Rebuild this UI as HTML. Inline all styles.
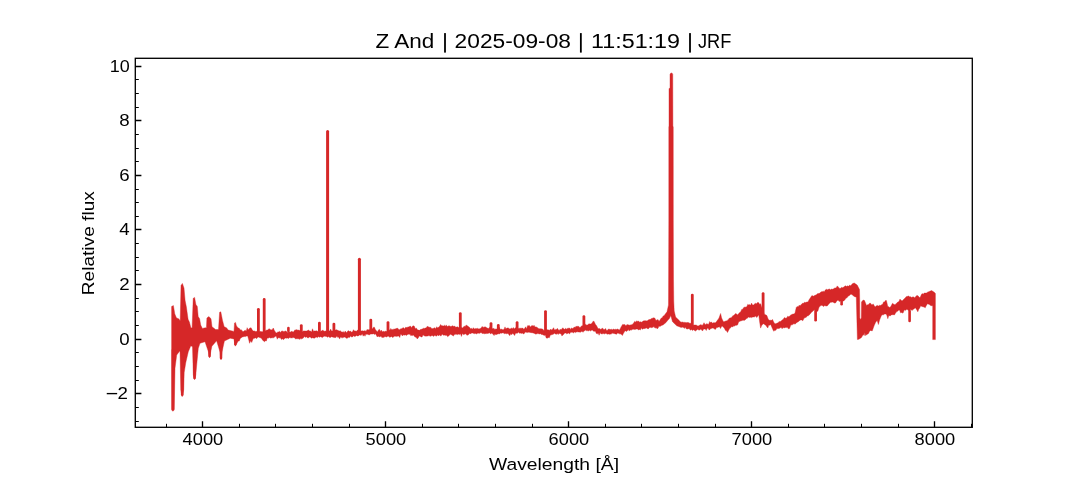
<!DOCTYPE html>
<html><head><meta charset="utf-8"><title>Z And spectrum</title>
<style>html,body{margin:0;padding:0;background:#fff;}body{width:1080px;height:480px;overflow:hidden;}svg{display:block;will-change:transform;}text{font-family:"Liberation Sans",sans-serif;fill:#000;}</style>
</head><body>
<svg width="1080" height="480" viewBox="0 0 1080 480">
<rect x="0" y="0" width="1080" height="480" fill="#fff"/>
<g clip-path="url(#axclip)">
<path d="M171.6 306.5 L173.4 305.6 L174.8 313.9 L176.5 318 L178.6 318.7 L180.2 320.7 L181 285.4 L182.4 283.4 L184 288.1 L185.1 300.4 L186.4 307.1 L188.1 319.3 L189.4 322.1 L190.8 327.5 L192.1 328.2 L193.2 298.3 L194.6 297.4 L195.9 304.4 L197.3 306.5 L198.2 316.6 L199.6 318.7 L200.7 325 L202.4 328.4 L205.3 327.8 L206.4 328 L206.9 318 L208.8 316.6 L211 318.7 L212 326.7 L215.6 329.5 L218.5 329.5 L219.6 312.3 L220.8 311.8 L222.5 320.4 L224.2 326.7 L226.5 327.8 L228.2 330.1 L234 331.4 L234.5 323 L235.5 322.4 L236.5 326 L238.2 328 L239.24 328.35 L240.28 329.95 L241.32 329.73 L242.36 331.14 L243.4 331.6 L244.34 330.72 L245.29 330.16 L246.23 331.2 L247.17 327.66 L248.11 330.11 L249.06 328.64 L250 328 L251.07 327.8 L252.15 329.81 L253.23 331.08 L254.3 330.9 L255.65 331.52 L257 331.3 L258 330.89 L259 331.66 L260 331.4 L261 331.6 L261.95 331.77 L262.9 331.86 L263.85 330.42 L264.8 330.85 L265.75 330.85 L266.7 330.1 L267.8 330.01 L268.9 328.7 L269.95 329.2 L271 330 L272.15 329.68 L273.3 328 L274.4 330.45 L275.5 332.3 L276.47 332.95 L277.44 332.13 L278.41 332.08 L279.39 331.37 L280.36 332.5 L281.33 331.19 L282.3 330.9 L283.28 331.43 L284.26 331.47 L285.23 330.88 L286.21 331.29 L287.19 332.13 L288.17 332.25 L289.14 331.85 L290.12 332.25 L291.1 331.6 L292.07 331.15 L293.03 332.24 L294 331.28 L294.97 329.81 L295.93 330.16 L296.9 329.4 L297.84 330.33 L298.79 330.07 L299.73 330.55 L300.67 330.59 L301.61 331.52 L302.56 331.6 L303.5 330.9 L304.52 330.88 L305.54 331.01 L306.56 331.01 L307.58 330.56 L308.6 330.1 L309.57 330.89 L310.53 331.11 L311.5 332.07 L312.47 328.78 L313.43 331.19 L314.4 330.9 L315.31 331.08 L316.22 330.79 L317.14 331.11 L318.05 331.53 L318.96 331.3 L319.88 331.9 L320.79 330.97 L321.7 330.9 L322.7 329.88 L323.7 331.02 L324.7 331.26 L325.7 330.94 L326.7 331.07 L327.7 332 L328.7 331.1 L329.7 330.9 L330.64 329.01 L331.57 331.11 L332.51 331.01 L333.45 330.77 L334.39 330.64 L335.32 330.12 L336.26 329.64 L337.2 330.1 L338.22 330.58 L339.24 331 L340.26 330.78 L341.28 331.69 L342.3 332.3 L343.21 331.43 L344.12 332.7 L345.04 331.28 L345.95 331.71 L346.86 332.65 L347.78 330.96 L348.69 330.69 L349.6 331.6 L350.57 331.1 L351.53 332.24 L352.5 331.67 L353.47 329.71 L354.43 330.92 L355.4 330.9 L356.38 331.25 L357.36 330.27 L358.33 329.84 L359.31 331.04 L360.29 330.87 L361.27 330.88 L362.24 330.7 L363.22 331.02 L364.2 330.9 L365.13 330.55 L366.05 331.5 L366.98 329.61 L367.91 329.73 L368.84 329.79 L369.76 329.69 L370.69 328.14 L371.62 328.8 L372.55 328.7 L373.47 327.18 L374.4 327.2 L375.5 329.75 L376.6 330.9 L377.54 332.03 L378.49 329.9 L379.43 329.35 L380.37 331.42 L381.31 330.04 L382.26 332.11 L383.2 330.9 L384.15 332.07 L385.1 331.06 L386.05 331.49 L387 330.83 L387.95 329.89 L388.9 329.47 L389.85 330.35 L390.8 328.43 L391.75 329.77 L392.7 329.4 L393.73 329.13 L394.77 329.02 L395.8 328.7 L396.78 328.37 L397.77 328.24 L398.75 329.6 L399.73 329.8 L400.72 328.64 L401.7 328.7 L402.67 327.9 L403.63 327.64 L404.6 328.96 L405.57 327.32 L406.53 327.53 L407.5 327.2 L408.48 326.96 L409.47 326.48 L410.45 326.12 L411.43 327.87 L412.42 326.15 L413.4 325.8 L414.37 326.32 L415.33 328.66 L416.3 328 L417.4 329.86 L418.5 330.1 L419.45 330.33 L420.4 329.55 L421.35 329.33 L422.3 329.06 L423.25 328.28 L424.2 328.44 L425.15 328.12 L426.1 327.97 L427.05 326.45 L428 326.5 L428.97 327.3 L429.93 327.29 L430.9 327.43 L431.87 328.79 L432.83 328.61 L433.8 328.2 L434.78 327.65 L435.76 328.63 L436.73 326.72 L437.71 328.09 L438.69 327.03 L439.67 326.27 L440.64 324.47 L441.62 325.81 L442.6 325.8 L443.51 326.04 L444.43 325.26 L445.34 326.15 L446.25 324.92 L447.16 326.81 L448.07 325.82 L448.99 326.15 L449.9 325.8 L450.88 326.78 L451.85 326.08 L452.82 325.7 L453.8 326.5 L454.74 326.02 L455.68 327.3 L456.62 327.06 L457.56 326.85 L458.5 327.61 L459.44 327.19 L460.38 327.01 L461.32 327.58 L462.26 328.07 L463.2 327.2 L464.2 326.19 L465.2 326.38 L466.2 325 L467.27 325.69 L468.35 326.57 L469.43 327.25 L470.5 328.7 L471.44 328.23 L472.39 329.3 L473.33 327.68 L474.27 329.06 L475.21 328.46 L476.16 328.84 L477.1 328.2 L478.08 328.64 L479.07 329.02 L480.05 328.59 L481.03 328.23 L482.02 326.43 L483 327.2 L484 327.2 L485 326.8 L486 327.17 L487 328 L487.99 328.3 L488.97 328.44 L489.96 326.72 L490.94 327.7 L491.93 328.38 L492.91 328.77 L493.9 328.2 L494.81 329.62 L495.72 328.89 L496.64 328.95 L497.55 329 L498.46 328.58 L499.38 327.33 L500.29 329.6 L501.2 329.1 L502.15 329.54 L503.1 329.72 L504.05 329.17 L505 326.88 L505.95 329.11 L506.9 327.91 L507.85 328 L508.8 328.2 L509.71 328.92 L510.62 328.64 L511.53 328.1 L512.43 328.68 L513.34 327.51 L514.25 329.12 L515.16 327.92 L516.07 327.77 L516.98 328.99 L517.88 328.42 L518.79 328.52 L519.7 328.2 L520.72 328.22 L521.74 328.22 L522.76 328.08 L523.78 329.19 L524.8 328.2 L525.71 326.84 L526.62 329.08 L527.54 325.67 L528.45 325.75 L529.36 325.45 L530.27 326.88 L531.19 326.3 L532.1 325.3 L533.08 326.33 L534.07 325.27 L535.05 326.98 L536.03 326.89 L537.02 327.25 L538 328.2 L539.08 328.73 L540.15 328.78 L541.22 328.85 L542.3 329.1 L543.24 329.6 L544.19 330.92 L545.13 330.31 L546.07 329.54 L547.01 329.81 L547.96 329.84 L548.9 330.1 L549.84 330.13 L550.79 329.01 L551.73 330.14 L552.67 329.1 L553.61 327.71 L554.56 330 L555.5 329.4 L556.42 329.59 L557.34 328.33 L558.27 329.81 L559.19 330.38 L560.11 329.2 L561.03 329.8 L561.96 328.78 L562.88 327.8 L563.8 329.1 L564.77 329.32 L565.73 328.27 L566.7 329.14 L567.67 328.17 L568.63 328.2 L569.6 328 L570.51 329.41 L571.42 327.9 L572.34 328.61 L573.25 328.31 L574.16 327.09 L575.08 327.51 L575.99 326.33 L576.9 326.5 L577.92 326.24 L578.94 326.53 L579.96 327.68 L580.98 326.43 L582 325.8 L582.92 325.77 L583.85 325.17 L584.78 324.8 L585.7 324.3 L586.78 325.21 L587.85 324.83 L588.92 323.86 L590 323.9 L591.02 324.02 L592.05 322.92 L593.08 321.28 L594.1 321.4 L595.35 324.18 L596.6 325.8 L598.1 328.7 L599.03 328.38 L599.96 328.82 L600.89 329.49 L601.81 328.46 L602.74 328.2 L603.67 329.57 L604.6 329.4 L605.58 328.43 L606.56 330.55 L607.53 330.24 L608.51 328.98 L609.49 329.28 L610.47 329.53 L611.44 329.25 L612.42 329.84 L613.4 329.1 L614.37 329.57 L615.34 329.22 L616.31 329.53 L617.29 328.99 L618.26 329.32 L619.23 330.19 L620.2 328.7 L621.5 326.16 L622.8 324.3 L623.83 324.87 L624.87 324.39 L625.9 326.02 L626.93 324.6 L627.97 324.84 L629 325 L629.97 325.29 L630.93 324.74 L631.9 324.77 L632.87 324.07 L633.83 322.69 L634.8 321.28 L635.77 322.2 L636.73 320.8 L637.7 321.4 L638.61 321.02 L639.53 322.16 L640.44 321.71 L641.35 322.13 L642.26 321.7 L643.17 320.97 L644.09 320.86 L645 320.7 L646 320.77 L647 320.91 L648 320.33 L649 319.49 L650 319.5 L650.95 319.05 L651.9 318.33 L652.85 318.13 L653.8 317.7 L654.9 318.17 L656 320.4 L657 320.06 L658 319.57 L659 321.46 L660 320 L661 318.36 L662 317.95 L663 316.19 L664 315.8 L667 311.7 L668.5 305 L668.6 280 L668.8 220 L668.8 127 L669 126 L669 88.5 L670 88.3 L670 74.5 L670.6 73.3 L671.4 72.9 L672.2 73.3 L672.75 74.5 L672.9 126 L673.25 127 L673.3 220 L673.5 280 L673.75 301 L674.2 311 L675.6 317 L679.3 320.6 L680.25 321.72 L681.2 322.15 L682.15 321.88 L683.1 322.29 L684.05 322.42 L685 322.2 L686 322.72 L687 322.45 L688 322.52 L689 322.84 L690 323.5 L691.1 323.04 L692.2 324.7 L693.3 325.28 L694.4 325 L695.33 324.98 L696.27 325.08 L697.2 325.73 L698.13 326.12 L699.07 325.56 L700 325 L701 324.61 L702 325.49 L703 324.68 L704 322.68 L705 324.4 L705.93 324.43 L706.87 323.56 L707.8 324.2 L708.73 324.24 L709.67 321.55 L710.6 322.5 L711.54 322.02 L712.48 323.31 L713.42 322.68 L714.37 322.67 L715.31 322.75 L716.25 321.9 L717.17 320.41 L718.08 319.53 L719 318 L720.6 313.5 L721.55 317.73 L722.5 320 L723.75 321.95 L725 321.25 L726 320.93 L727 320.67 L728 319.88 L729 318.42 L730 318.1 L730.93 317.71 L731.87 317.16 L732.8 315.73 L733.73 315.54 L734.67 314.45 L735.6 313.5 L736.55 313.9 L737.5 315 L738.54 313.87 L739.58 312.62 L740.62 311.99 L741.67 309.45 L742.71 309.23 L743.75 307.5 L745 306.9 L745.94 307.16 L746.88 306.59 L747.81 304.32 L748.75 305 L749.69 304.6 L750.62 305.36 L751.56 303.11 L752.5 305 L753.5 304.91 L754.5 303.94 L755.5 303.31 L756.5 303.78 L757.5 302.5 L758.53 302.58 L759.57 304.14 L760.6 303.75 L761.55 306.66 L762.5 308.89 L763.45 311.96 L764.4 314.4 L765.65 314.81 L766.9 315.6 L767.83 318.26 L768.75 320 L769.69 320.34 L770.62 320.24 L771.56 320.35 L772.5 319.4 L773.75 322.21 L775 323.75 L776 323.85 L777 323.05 L778 322.94 L779 321.62 L780 321.7 L781.1 321.11 L782.2 319.96 L783.3 319.2 L784.43 317.59 L785.57 318.15 L786.7 317.9 L787.73 316.17 L788.75 316.67 L789.77 315.96 L790.8 315 L791.85 314.62 L792.9 314.04 L793.95 313.97 L795 312.9 L796.25 307.5 L797.19 306.38 L798.12 307.07 L799.06 305.34 L800 305.8 L801.25 304.55 L802.5 303.3 L803.55 303.3 L804.6 302.13 L805.65 302.61 L806.7 302.1 L807.95 301.88 L809.2 299.6 L810.45 297.74 L811.7 295.8 L812.8 295.86 L813.9 296.29 L815 295 L816 295.24 L817 294.01 L818 293.4 L819.05 293.58 L820.1 292.83 L821.15 291.81 L822.2 291.75 L823.23 291.16 L824.25 291.81 L825.27 290.12 L826.3 289.25 L827.35 289.87 L828.4 289.37 L829.45 288.96 L830.5 289.7 L831.55 289.11 L832.6 289.27 L833.65 288.79 L834.7 288 L836 288 L837.3 285.9 L838.5 287.15 L839.7 288.4 L840.7 288.24 L841.7 287.32 L842.7 287.81 L843.7 287.06 L844.7 286.3 L845.7 285.82 L846.7 286.59 L847.7 285.82 L848.7 286.35 L849.7 285.1 L850.61 285.78 L851.52 284.75 L852.43 283.64 L853.34 283.36 L854.25 283 L857.2 285.1 L859.5 289.5 L859.7 300 L859.8 318 L860.5 319.5 L861.3 318 L861.5 302 L863.2 300 L864.5 300.5 L866.5 305.4 L867.5 304.86 L868.5 304.4 L869.55 303.29 L870.6 303.3 L871.9 304.95 L873.2 303.9 L874.25 305.71 L875.3 307 L876.35 305.85 L877.4 305.4 L878.53 306.05 L879.67 305.26 L880.8 305.6 L881.73 304.58 L882.67 304.27 L883.6 301.9 L884.53 302.03 L885.47 300.52 L886.4 300.5 L887.8 306.6 L888.75 306.82 L889.7 307.5 L890.63 306.66 L891.57 305.12 L892.5 303.3 L893.7 304.16 L894.9 304.7 L895.92 303.99 L896.94 302.79 L897.96 302.11 L898.98 301.62 L900 299.1 L900.93 300.37 L901.87 300.72 L902.8 300.5 L903.9 299.11 L905 298.25 L906.1 296.7 L907.9 296.3 L908.84 296.01 L909.78 296.91 L910.72 296.69 L911.66 297.49 L912.6 296.9 L913.62 296.88 L914.65 297.63 L915.68 296.67 L916.7 295.6 L918.05 295.86 L919.4 297.6 L920.3 297.14 L921.2 295 L922.1 293.6 L923.18 294.22 L924.26 292.97 L925.34 293.12 L926.42 293.07 L927.5 292.2 L931.6 290.6 L934.3 292.3 L935.4 293.5 L935.4 339.6 L932.7 339.6 L932.7 305.7 L930.9 305.7 L929.77 304.87 L928.63 304.17 L927.5 303.7 L926.37 305.43 L925.23 307.81 L924.1 307.1 L922.97 306.69 L921.83 306.44 L920.7 305.7 L919.73 308.07 L918.77 309.16 L917.8 311.8 L916.55 309.53 L915.3 307.8 L914.17 308.73 L913.03 309.62 L911.9 310.5 L910.92 309.47 L909.95 309.89 L908.98 310.66 L908 310.2 L907.05 309.28 L906.1 309.8 L905.17 310.56 L904.25 309.85 L903.33 312.62 L902.4 313.1 L901.45 312.48 L900.5 312.87 L899.55 310.06 L898.6 310.3 L897.55 311.19 L896.5 311.8 L895.45 313.19 L894.4 315 L893.35 314.65 L892.3 314.71 L891.25 314.93 L890.2 315.9 L888.8 315.5 L887.8 318.7 L886.8 315 L885.7 314.04 L884.6 314 L883.65 314.73 L882.7 314.86 L881.75 314.9 L880.8 316.9 L879.6 320 L878.4 324.5 L877.2 320.5 L875.8 322 L874.3 325.2 L873.2 328.3 L872.2 330.9 L870.6 330.4 L869.55 331.33 L868.5 333.5 L865.4 335.5 L864.9 332.5 L864.2 335.5 L863.3 334.6 L861.25 337.7 L858.8 339.3 L857.4 339.5 L856.3 297.2 L853.8 296.3 L852.55 294.88 L851.3 294.25 L850.27 294.48 L849.25 295.66 L848.23 296.01 L847.2 297.6 L845.95 298.19 L844.7 300.1 L843.75 300.89 L842.8 301 L841.55 301.13 L840.3 301 L839.15 301.51 L838 300.1 L836.75 300.9 L835.5 303 L834.53 303.07 L833.57 302.49 L832.6 302.08 L831.63 302.25 L830.67 302.3 L829.7 303 L828.45 304.5 L827.2 306 L825.95 306.03 L824.7 305.5 L823.78 306.59 L822.86 305.9 L821.94 305.36 L821.02 305.56 L820.1 306 L818.95 307.61 L817.8 311.2 L816.74 311.54 L815.68 311.57 L814.62 309.79 L813.56 310.48 L812.5 311.5 L811.25 312.47 L810 314.2 L808.3 315.8 L807.2 315.9 L806.1 317.38 L805 317.5 L803.9 318.54 L802.8 320.84 L801.7 320 L800.57 319.96 L799.43 320.67 L798.3 321.7 L797.2 322.16 L796.1 323.25 L795 324.2 L793.95 323.54 L792.9 324.55 L791.85 324.87 L790.8 325 L789.55 328.55 L788.3 328.75 L787.27 327.29 L786.25 327.61 L785.23 327.45 L784.2 327.9 L783.15 327.59 L782.1 328.76 L781.05 327.13 L780 328.1 L778.96 328.45 L777.92 328.59 L776.88 328.57 L775.83 330.34 L774.79 330.36 L773.75 331.25 L772.7 329.24 L771.65 326.77 L770.6 324.4 L769.67 325.14 L768.75 325.02 L767.83 328.04 L766.9 326.9 L765.85 325.3 L764.8 324.64 L763.75 323.75 L762.7 324.18 L761.65 325.62 L760.6 328.1 L759.67 322.07 L758.75 315 L757.75 315.98 L756.75 317.57 L755.75 316 L754.75 316.86 L753.75 316.9 L752.71 317.01 L751.67 317.62 L750.62 317.31 L749.58 317.41 L748.54 317.11 L747.5 318.1 L746.25 318.78 L745 320 L744 320.5 L743 320.01 L742 320.63 L741 320.79 L740 321.25 L738.75 321.75 L737.5 325 L736.56 325.31 L735.62 325.26 L734.69 326.07 L733.75 325.86 L732.81 326.93 L731.88 326.54 L730.94 327.47 L730 328.1 L728.75 330.05 L727.5 332.5 L726.5 330.79 L725.5 330.38 L724.5 328.46 L723.5 327.13 L722.5 326.25 L721.5 326.6 L720.5 328.57 L719.5 326.78 L718.5 327.04 L717.5 327.5 L716.56 327.38 L715.62 329.24 L714.69 329.27 L713.75 328.24 L712.81 328.05 L711.88 328.24 L710.94 328.45 L710 329.4 L709.06 329.9 L708.12 328.28 L707.19 328.31 L706.25 330.53 L705.31 328.96 L704.38 329.05 L703.44 329.26 L702.5 331.04 L701.56 329.7 L700.62 329.17 L699.69 330.07 L698.75 330 L697.71 329.36 L696.67 330.06 L695.62 331.06 L694.58 330.44 L693.54 329.73 L692.5 330.6 L691.46 329.4 L690.42 330.22 L689.38 328.84 L688.33 328.67 L687.29 329.08 L686.25 328.75 L685.21 327.35 L684.17 328.39 L683.12 327.06 L682.08 327.28 L681.04 327.5 L680 327 L676.7 325.8 L672.5 321.7 L670.8 315.5 L669.4 318.5 L668 320 L666 322.5 L663 325 L662 325.19 L661 325.7 L660 326.58 L659 326.08 L658 328.3 L657 328.63 L656 327.51 L655 328.22 L654 326.58 L653 327.3 L652 327.45 L651 327.85 L650 326.92 L649 328.25 L648 328.94 L647 328.15 L646 327.82 L645 328.7 L644.07 328.46 L643.15 328.63 L642.22 329.37 L641.29 327.85 L640.36 330.05 L639.44 329.42 L638.51 330.03 L637.58 328.99 L636.65 328.91 L635.73 329.31 L634.8 329.4 L633.87 329.33 L632.95 329.21 L632.02 329.59 L631.09 330.35 L630.16 329.8 L629.24 331.07 L628.31 329.58 L627.38 330.78 L626.45 331.48 L625.53 330.86 L624.6 331.6 L623.5 333.23 L622.4 335.5 L621.3 334.37 L620.2 333.8 L619.3 333.81 L618.4 333.24 L617.5 333.12 L616.6 334.3 L615.7 333.97 L614.8 333.97 L613.9 333.05 L613 333.81 L612.1 332.74 L611.2 334.17 L610.3 334.09 L609.4 334.34 L608.5 333.88 L607.6 334.2 L606.66 333.78 L605.73 333.33 L604.79 334.07 L603.85 333.48 L602.92 333.85 L601.98 333.76 L601.05 333.94 L600.11 332.51 L599.17 335.25 L598.24 333.33 L597.3 333.8 L596.33 333.45 L595.37 331.34 L594.4 331.3 L593.43 331.14 L592.47 330.1 L591.5 330.25 L590.53 330.97 L589.57 330.32 L588.6 330.9 L587.69 330.62 L586.77 331.09 L585.86 329.67 L584.95 330.86 L584.04 330.65 L583.12 332.36 L582.21 331.53 L581.3 331.6 L580.32 332.37 L579.34 332.11 L578.37 331.97 L577.39 331.87 L576.41 332.03 L575.43 332.61 L574.46 332.04 L573.48 332.9 L572.5 332.3 L571.53 332.37 L570.57 332.23 L569.6 333.95 L568.63 333.03 L567.67 333.42 L566.7 333.82 L565.73 333.11 L564.77 332.93 L563.8 334.2 L562.87 335.12 L561.93 335.99 L561 333.64 L560.07 333.66 L559.13 333.31 L558.2 334.52 L557.27 333.5 L556.33 334.37 L555.4 333.88 L554.47 333.37 L553.53 334.11 L552.6 334.5 L551.5 334.8 L550.4 334.89 L549.3 337.86 L548.2 337.4 L547.22 338.22 L546.23 337.93 L545.25 335.11 L544.27 335.57 L543.28 334.89 L542.3 334.5 L541.39 334.47 L540.47 333.73 L539.56 333.98 L538.65 333.69 L537.74 333.61 L536.83 333.77 L535.91 334.15 L535 333.8 L534.03 333.21 L533.07 332.99 L532.1 332.67 L531.13 332.64 L530.17 332.47 L529.2 332.3 L528.22 332.16 L527.24 332.58 L526.27 332.33 L525.29 332.1 L524.31 333.52 L523.33 334.02 L522.36 332.9 L521.38 333.38 L520.4 333.1 L519.43 333.27 L518.47 332.04 L517.5 333.2 L516.53 333.14 L515.57 333.15 L514.6 335.55 L513.63 334.22 L512.67 333.18 L511.7 334.76 L510.73 333.77 L509.77 335.66 L508.8 334.5 L507.85 333.16 L506.9 334.04 L505.95 333.23 L505 333.8 L504.09 333.54 L503.18 332.87 L502.28 332.88 L501.37 333.32 L500.46 332.95 L499.55 334.02 L498.65 333.72 L497.74 334.11 L496.83 334.19 L495.92 334.93 L495.02 333.71 L494.11 335.6 L493.2 334.5 L492.27 333.43 L491.35 333.17 L490.42 333.9 L489.49 332.65 L488.56 333.29 L487.64 333.42 L486.71 333.61 L485.78 333.42 L484.85 333.94 L483.93 333.31 L483 333.8 L482.02 333.2 L481.04 332.58 L480.07 332.96 L479.09 333.55 L478.11 332.99 L477.13 333.53 L476.16 334 L475.18 333.17 L474.2 333.8 L473.29 333.24 L472.38 332.96 L471.46 333.1 L470.55 334.06 L469.64 333.14 L468.72 334.49 L467.81 335.09 L466.9 335.3 L465.99 333.89 L465.07 333.81 L464.16 334.46 L463.25 334.51 L462.34 333.6 L461.43 336.43 L460.51 333.84 L459.6 334.5 L458.69 334.03 L457.78 334.67 L456.86 333.93 L455.95 334.81 L455.04 333.77 L454.12 335.21 L453.21 336.09 L452.3 335.3 L451.38 334.7 L450.46 334.28 L449.53 334.95 L448.61 335.95 L447.69 336.71 L446.77 335.37 L445.84 335.53 L444.92 335.01 L444 335.3 L443.07 335.09 L442.15 333.9 L441.22 335.77 L440.29 335.86 L439.36 334.72 L438.44 335.99 L437.51 334.7 L436.58 336.13 L435.65 335.8 L434.73 335.32 L433.8 336.4 L432.82 335.67 L431.84 335.57 L430.87 336.2 L429.89 336.11 L428.91 335.55 L427.93 336.02 L426.96 336.03 L425.98 336.17 L425 336 L424.03 335.76 L423.07 334.82 L422.1 336.92 L421.13 336.95 L420.17 336.18 L419.2 335.98 L418.23 337.96 L417.27 338.92 L416.3 337.4 L415.39 337.08 L414.48 336.55 L413.56 335.12 L412.65 335.57 L411.74 335.25 L410.82 335.72 L409.91 334.08 L409 334.5 L408.07 333.89 L407.15 334.95 L406.22 335.46 L405.29 334.69 L404.36 335.14 L403.44 334.75 L402.51 335.93 L401.58 334.79 L400.65 334.36 L399.73 337.51 L398.8 336 L397.9 335.98 L397 336.48 L396.1 336.15 L395.2 336.29 L394.3 336.18 L393.4 337 L392.45 337.41 L391.51 336.42 L390.56 336.96 L389.61 337.27 L388.66 336.35 L387.72 336.14 L386.77 337.03 L385.82 336.65 L384.88 336.56 L383.93 337.59 L382.98 337.04 L382.04 337.74 L381.09 336.21 L380.14 336.39 L379.19 337.03 L378.25 336.02 L377.3 337 L376.33 335.21 L375.37 333.75 L374.4 334.5 L373.46 333.73 L372.53 334.03 L371.59 334.07 L370.66 333.95 L369.72 334.66 L368.79 334.99 L367.85 333.92 L366.91 334.69 L365.98 333.69 L365.04 336.25 L364.11 334.65 L363.17 336.19 L362.24 333.69 L361.3 335.3 L360.32 335.13 L359.35 334.89 L358.38 335.9 L357.4 335.91 L356.43 335.45 L355.45 336.23 L354.48 336.39 L353.5 335.73 L352.53 336.9 L351.55 336.92 L350.58 336.08 L349.6 337.4 L348.69 337.19 L347.78 337.85 L346.87 338.4 L345.96 337.83 L345.05 337.31 L344.14 337.04 L343.23 337.58 L342.32 337.86 L341.41 337.61 L340.5 337.02 L339.6 339.07 L338.69 337.12 L337.78 337.49 L336.87 336.08 L335.96 337.49 L335.05 337.57 L334.14 337.52 L333.23 337.19 L332.32 336.96 L331.41 336.7 L330.5 337.4 L329.59 337.42 L328.68 336.56 L327.76 337.33 L326.85 336.63 L325.94 336.19 L325.02 336.45 L324.11 335.98 L323.2 337 L322.22 337.62 L321.24 336.89 L320.27 336.64 L319.29 337.34 L318.31 336.53 L317.33 337.68 L316.36 337.09 L315.38 337.49 L314.4 338.2 L313.43 338.06 L312.47 337.74 L311.5 338.17 L310.53 337.31 L309.57 336.88 L308.6 337.7 L307.63 337.9 L306.67 336.81 L305.7 337.4 L304.72 336.49 L303.73 337.6 L302.75 338.32 L301.77 339.08 L300.78 338.14 L299.8 339.6 L298.87 338.41 L297.95 339.28 L297.02 338.19 L296.09 339.16 L295.16 338.47 L294.24 337.63 L293.31 337.51 L292.38 337.86 L291.45 337.91 L290.53 337.84 L289.6 337.4 L288.6 338.58 L287.6 338.07 L286.6 338.18 L285.6 337.94 L284.6 338.41 L283.6 339.66 L282.6 338.86 L281.6 339.6 L280 337.4 L279.09 338.14 L278.18 337.42 L277.28 339.26 L276.37 336.62 L275.46 336.3 L274.55 337.11 L273.65 337.72 L272.74 337.85 L271.83 337.64 L270.92 338.17 L270.02 337.66 L269.11 337.39 L268.2 338.2 L267.27 337.89 L266.35 341.03 L265.43 340.69 L264.5 341.8 L263.48 340.93 L262.46 339.88 L261.44 338.14 L260.42 337.83 L259.4 337.4 L258.46 337.01 L257.51 337.47 L256.57 338.75 L255.63 337.75 L254.69 338.24 L253.74 338.3 L252.8 339.6 L251.73 342.47 L250.67 340.87 L249.6 343.3 L248.65 339.39 L247.7 336 L246.62 336.11 L245.55 336.61 L244.47 336.44 L243.4 336.7 L242.36 336.96 L241.32 337.68 L240.28 338.43 L239.24 341.11 L238.2 341.1 L235.3 346.2 L233.9 338.9 L230.2 338.2 L224.4 341.1 L222 352 L221 360 L220 352 L216.6 340.8 L211.9 346.3 L210.7 352 L209.5 358 L208.5 352 L205 341.7 L200 343.3 L198.3 348.3 L196.7 365 L195.8 375 L194.5 379.8 L193.3 375 L192.5 346.7 L190.8 345.8 L188.3 351.7 L185.8 362.5 L184.2 372.5 L183.7 390 L182.2 396.8 L180.8 390 L180 350.8 L176.7 355 L175 368.3 L174.2 410 L172.9 411.3 L171.7 410 L171.6 348 Z" fill="#d62728" stroke="#d62728" stroke-width="0.4" stroke-linejoin="round"/>
<line x1="258.4" y1="309.3" x2="258.4" y2="332" stroke="#d62728" stroke-width="2.8" stroke-linecap="round"/>
<line x1="264.2" y1="299.4" x2="264.2" y2="332" stroke="#d62728" stroke-width="2.8" stroke-linecap="round"/>
<line x1="288.4" y1="328" x2="288.4" y2="331" stroke="#d62728" stroke-width="2.6" stroke-linecap="round"/>
<line x1="301.3" y1="325.6" x2="301.3" y2="331" stroke="#d62728" stroke-width="2.8" stroke-linecap="round"/>
<line x1="319.4" y1="323.1" x2="319.4" y2="331" stroke="#d62728" stroke-width="2.8" stroke-linecap="round"/>
<line x1="327.6" y1="131.5" x2="327.6" y2="331" stroke="#d62728" stroke-width="3" stroke-linecap="round"/>
<line x1="333.9" y1="324.1" x2="333.9" y2="331" stroke="#d62728" stroke-width="2.8" stroke-linecap="round"/>
<line x1="359.4" y1="259.2" x2="359.4" y2="331" stroke="#d62728" stroke-width="3" stroke-linecap="round"/>
<line x1="370.8" y1="320.1" x2="370.8" y2="330" stroke="#d62728" stroke-width="2.8" stroke-linecap="round"/>
<line x1="388" y1="322.6" x2="388" y2="330" stroke="#d62728" stroke-width="2.8" stroke-linecap="round"/>
<line x1="460.3" y1="313.6" x2="460.3" y2="328" stroke="#d62728" stroke-width="2.8" stroke-linecap="round"/>
<line x1="491" y1="323.6" x2="491" y2="329" stroke="#d62728" stroke-width="2.8" stroke-linecap="round"/>
<line x1="498.3" y1="325.4" x2="498.3" y2="329" stroke="#d62728" stroke-width="2.8" stroke-linecap="round"/>
<line x1="517.1" y1="322.6" x2="517.1" y2="329" stroke="#d62728" stroke-width="2.8" stroke-linecap="round"/>
<line x1="545.5" y1="311.6" x2="545.5" y2="333" stroke="#d62728" stroke-width="2.8" stroke-linecap="round"/>
<line x1="583.9" y1="316.6" x2="583.9" y2="326" stroke="#d62728" stroke-width="2.8" stroke-linecap="round"/>
<line x1="692.3" y1="295.1" x2="692.3" y2="326" stroke="#d62728" stroke-width="2.8" stroke-linecap="round"/>
<line x1="763.1" y1="293.6" x2="763.1" y2="315" stroke="#d62728" stroke-width="2.8" stroke-linecap="round"/>
<line x1="172.95" y1="350" x2="172.95" y2="408.9" stroke="#d62728" stroke-width="2.6" stroke-linecap="round"/>
<line x1="182.25" y1="356" x2="182.25" y2="394.65" stroke="#d62728" stroke-width="2.7" stroke-linecap="round"/>
<line x1="194.55" y1="350" x2="194.55" y2="377.9" stroke="#d62728" stroke-width="2.6" stroke-linecap="round"/>
<line x1="209.55" y1="343" x2="209.55" y2="356.05" stroke="#d62728" stroke-width="2.5" stroke-linecap="round"/>
<line x1="221" y1="342" x2="221" y2="358.05" stroke="#d62728" stroke-width="2.5" stroke-linecap="round"/>
<line x1="235.3" y1="339" x2="235.3" y2="344.3" stroke="#d62728" stroke-width="2.4" stroke-linecap="round"/>
<line x1="815.6" y1="311" x2="815.6" y2="320.25" stroke="#d62728" stroke-width="2.7" stroke-linecap="round"/>
<line x1="841.6" y1="300.5" x2="841.6" y2="304.3" stroke="#d62728" stroke-width="2.6" stroke-linecap="round"/>
<line x1="909.6" y1="311" x2="909.6" y2="321" stroke="#d62728" stroke-width="2.6" stroke-linecap="round"/>
</g>
<defs><clipPath id="axclip"><rect x="135.3" y="58.3" width="837" height="369"/></clipPath></defs>
<path d="M202.5 427.3 V421.3 M385.5 427.3 V421.3 M568.5 427.3 V421.3 M751.5 427.3 V421.3 M934.5 427.3 V421.3" stroke="#000" stroke-width="1.33" fill="none"/>
<path d="M166.5 427.3 V423.8 M239.5 427.3 V423.8 M275.5 427.3 V423.8 M312.5 427.3 V423.8 M349.5 427.3 V423.8 M422.5 427.3 V423.8 M458.5 427.3 V423.8 M495.5 427.3 V423.8 M532.5 427.3 V423.8 M605.5 427.3 V423.8 M641.5 427.3 V423.8 M678.5 427.3 V423.8 M715.5 427.3 V423.8 M788.5 427.3 V423.8 M824.5 427.3 V423.8 M861.5 427.3 V423.8 M898.5 427.3 V423.8 M971.5 427.3 V423.8" stroke="#000" stroke-width="1" fill="none"/>
<path d="M135.3 393.5 H141.4 M135.3 339.5 H141.4 M135.3 284.5 H141.4 M135.3 229.5 H141.4 M135.3 175.5 H141.4 M135.3 120.5 H141.4 M135.3 66.5 H141.4" stroke="#000" stroke-width="1.33" fill="none"/>
<path d="M135.3 421.5 H138.8 M135.3 407.5 H138.8 M135.3 380.5 H138.8 M135.3 366.5 H138.8 M135.3 352.5 H138.8 M135.3 325.5 H138.8 M135.3 311.5 H138.8 M135.3 298.5 H138.8 M135.3 270.5 H138.8 M135.3 257.5 H138.8 M135.3 243.5 H138.8 M135.3 216.5 H138.8 M135.3 202.5 H138.8 M135.3 189.5 H138.8 M135.3 161.5 H138.8 M135.3 148.5 H138.8 M135.3 134.5 H138.8 M135.3 107.5 H138.8 M135.3 93.5 H138.8 M135.3 79.5 H138.8" stroke="#000" stroke-width="1" fill="none"/>
<rect x="135.3" y="58.3" width="837" height="369" fill="none" stroke="#000" stroke-width="1.33" stroke-linejoin="miter"/>
<text x="202.9" y="444.8" font-size="16.8" text-anchor="middle" textLength="40.7" lengthAdjust="spacingAndGlyphs">4000</text>
<text x="385.9" y="444.8" font-size="16.8" text-anchor="middle" textLength="40.7" lengthAdjust="spacingAndGlyphs">5000</text>
<text x="568.9" y="444.8" font-size="16.8" text-anchor="middle" textLength="40.7" lengthAdjust="spacingAndGlyphs">6000</text>
<text x="751.9" y="444.8" font-size="16.8" text-anchor="middle" textLength="40.7" lengthAdjust="spacingAndGlyphs">7000</text>
<text x="934.9" y="444.8" font-size="16.8" text-anchor="middle" textLength="40.7" lengthAdjust="spacingAndGlyphs">8000</text>
<text x="127.95" y="398.95" font-size="16.8" text-anchor="end" textLength="10.4" lengthAdjust="spacingAndGlyphs">2</text>
<rect x="106.75" y="392.93" width="10.4" height="1.35" fill="#000"/>
<text x="129.7" y="344.95" font-size="16.8" text-anchor="end" textLength="10.4" lengthAdjust="spacingAndGlyphs">0</text>
<text x="129.7" y="289.95" font-size="16.8" text-anchor="end" textLength="10.4" lengthAdjust="spacingAndGlyphs">2</text>
<text x="129.7" y="234.95" font-size="16.8" text-anchor="end" textLength="10.4" lengthAdjust="spacingAndGlyphs">4</text>
<text x="129.7" y="180.95" font-size="16.8" text-anchor="end" textLength="10.4" lengthAdjust="spacingAndGlyphs">6</text>
<text x="129.7" y="125.95" font-size="16.8" text-anchor="end" textLength="10.4" lengthAdjust="spacingAndGlyphs">8</text>
<text x="129.7" y="71.95" font-size="16.8" text-anchor="end" textLength="20" lengthAdjust="spacingAndGlyphs">10</text>
<text x="375.6" y="48.0" font-size="19.6" textLength="58.8" lengthAdjust="spacingAndGlyphs">Z And</text>
<text x="454.6" y="48.0" font-size="19.6" textLength="116.4" lengthAdjust="spacingAndGlyphs">2025-09-08</text>
<text x="591" y="48.0" font-size="19.6" textLength="89" lengthAdjust="spacingAndGlyphs">11:51:19</text>
<text x="698" y="48.0" font-size="19.6" textLength="33.4" lengthAdjust="spacingAndGlyphs">JRF</text>
<rect x="444.1" y="33.1" width="1.8" height="19.5" fill="#000"/>
<rect x="579.95" y="33.1" width="1.8" height="19.5" fill="#000"/>
<rect x="689.1" y="33.1" width="1.8" height="19.5" fill="#000"/>
<text x="554" y="469.9" font-size="16.8" text-anchor="middle" textLength="130" lengthAdjust="spacingAndGlyphs">Wavelength [Å]</text>
<text x="0" y="0" font-size="16.8" text-anchor="middle" textLength="104" lengthAdjust="spacingAndGlyphs" transform="translate(94.4 243.2) rotate(-90)">Relative flux</text>
</svg>
</body></html>
